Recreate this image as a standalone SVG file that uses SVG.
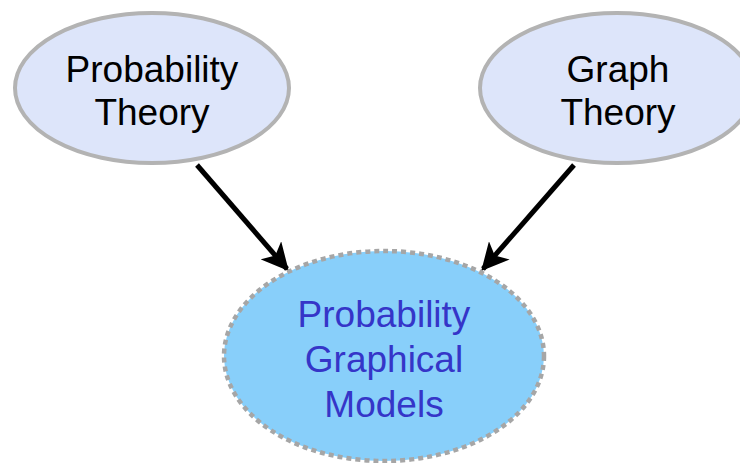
<svg xmlns="http://www.w3.org/2000/svg" width="740" height="463" viewBox="0 0 740 463">
<style>
.top{fill:#dde5fa;stroke:#b3b3b3;stroke-width:4}
.pgm{fill:#88cffa;stroke:#a6a6a6;stroke-width:4.5;stroke-dasharray:5 4}
text{font-family:"Liberation Sans",Arial,sans-serif;font-size:37px;text-anchor:middle}
.dark{fill:#000}
.blue{fill:#3535c8}
.conn{stroke:#000;stroke-width:5;fill:none;marker-end:url(#ah)}
</style>
<defs>
<marker id="ah" viewBox="0 0 10 10" refX="9" refY="5" markerWidth="5.5" markerHeight="5.5" orient="auto" markerUnits="strokeWidth">
<path d="M0,0 L10,5 L0,10 L2.5,5 Z" fill="#000"/>
</marker>
</defs>
<rect width="740" height="463" fill="#fff"/>
<g id="connectors">
<line class="conn" x1="197" y1="165" x2="287" y2="269"/>
<line class="conn" x1="574" y1="165" x2="483" y2="269"/>
</g>
<g id="probability-theory">
<ellipse class="top" cx="152" cy="88" rx="137" ry="75"/>
<text class="dark" x="152" y="82">Probability</text>
<text class="dark" x="152" y="125">Theory</text>
</g>
<g id="graph-theory">
<ellipse class="top" cx="617" cy="88" rx="137" ry="75"/>
<text class="dark" x="618" y="82">Graph</text>
<text class="dark" x="618" y="125">Theory</text>
</g>
<g id="pgm">
<ellipse class="pgm" cx="384" cy="356" rx="160" ry="105"/>
<text class="blue" x="384" y="327">Probability</text>
<text class="blue" x="384" y="372">Graphical</text>
<text class="blue" x="384" y="417">Models</text>
</g>
</svg>
